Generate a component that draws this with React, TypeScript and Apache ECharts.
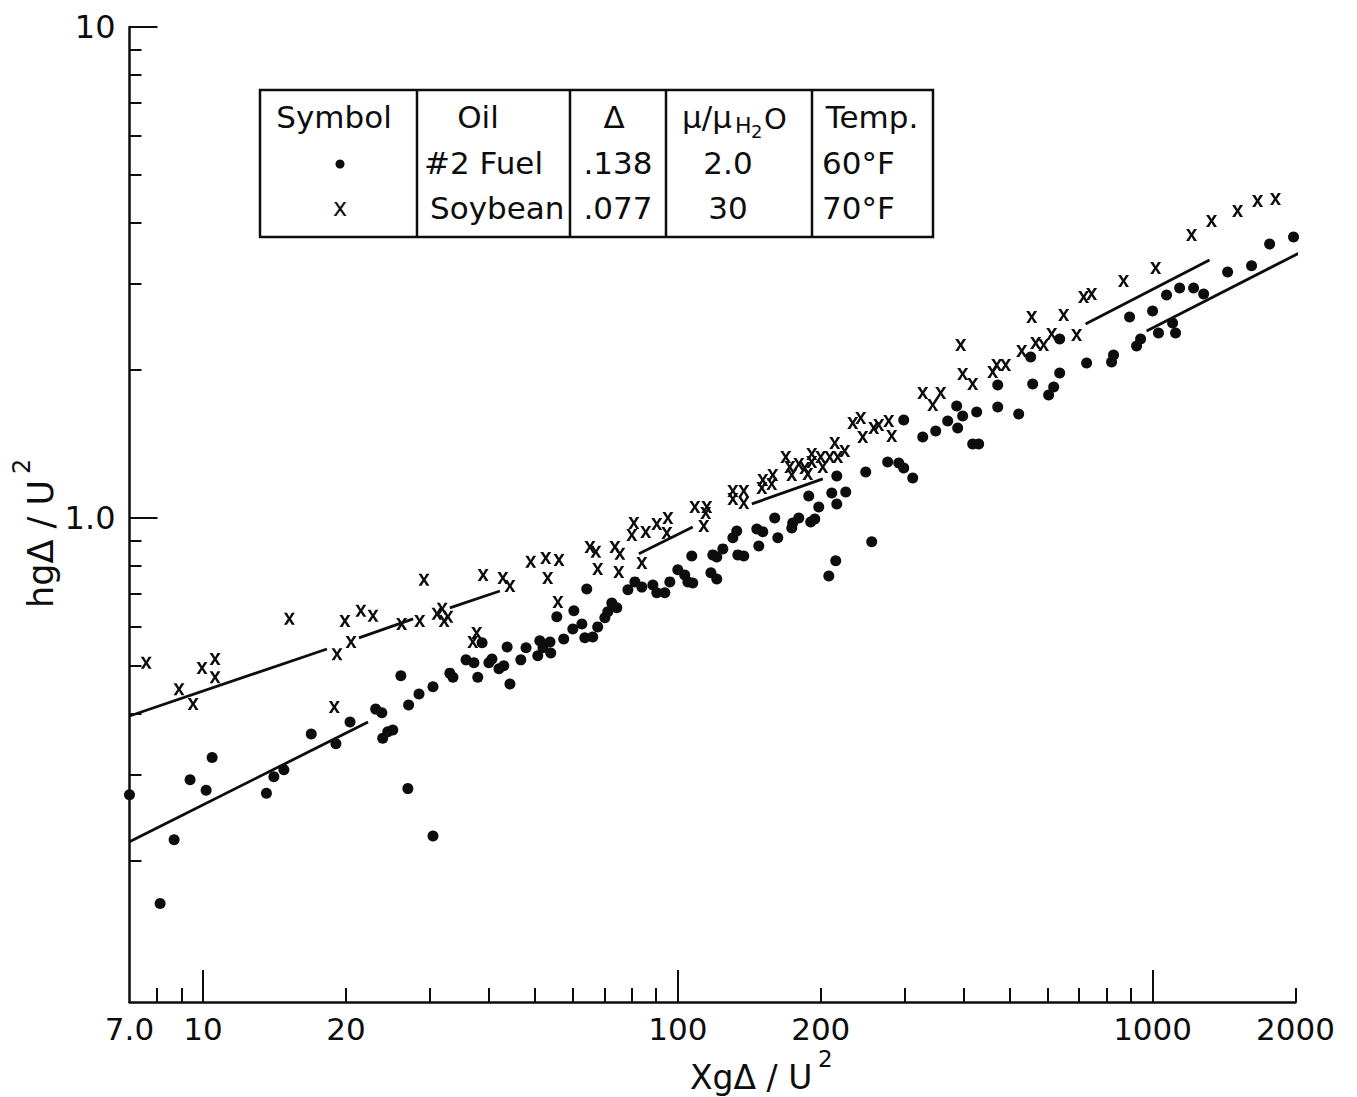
import React, { useEffect, useRef } from "react";
import * as echarts from "echarts";

// ---------- axis ticks / labels ----------
const xTickMajor = [10, 100, 1000];
const xTickMinor = [8, 9, 20, 30, 40, 50, 60, 70, 80, 90, 200, 300, 400, 500, 600, 700, 800, 900, 2000];
const xTickLabels = [7, 10, 20, 100, 200, 1000, 2000];
const yTickMajor = [1, 10];
const yTickMinor = [0.2, 0.3, 0.4, 0.5, 0.6, 0.7, 0.8, 0.9, 2, 3, 4, 5, 6, 7, 8, 9];
const yTickLabels = [1, 10];

// ---------- data: #2 Fuel (dots) ----------
const fuelData: [number, number][] = [
  [7.0, 0.273], [8.69, 0.221], [8.12, 0.164], [9.39, 0.293], [10.15, 0.279], [10.45, 0.325],
  [13.6, 0.275], [14.1, 0.297], [14.8, 0.307], [16.9, 0.363], [19.05, 0.347], [20.4, 0.384],
  [23.1, 0.408], [23.8, 0.401], [23.9, 0.356], [24.5, 0.367], [25.1, 0.37], [26.1, 0.477],
  [27.1, 0.416], [28.5, 0.438], [30.5, 0.453], [33.1, 0.483], [33.6, 0.474], [27.0, 0.281],
  [30.5, 0.225], [35.8, 0.514], [37.2, 0.507], [37.9, 0.474], [38.7, 0.557], [40.0, 0.507],
  [40.6, 0.516], [42.0, 0.493], [43.0, 0.5], [43.7, 0.546], [44.3, 0.459], [46.7, 0.514],
  [47.9, 0.544], [50.7, 0.524], [51.2, 0.562], [52.0, 0.544], [53.8, 0.559], [54.0, 0.531],
  [55.6, 0.629], [57.5, 0.567], [60.4, 0.647], [60.1, 0.594], [62.8, 0.608], [63.7, 0.57],
  [64.3, 0.717], [66.2, 0.572], [67.8, 0.6], [70.2, 0.626], [71.2, 0.644], [72.6, 0.671],
  [74.4, 0.656], [78.5, 0.714], [81.2, 0.741], [84.0, 0.723], [88.6, 0.73], [90.3, 0.704],
  [93.9, 0.704], [96.2, 0.741], [100, 0.784], [103.4, 0.765], [105, 0.741], [107.5, 0.737],
  [107, 0.837], [118.5, 0.841], [120.8, 0.833], [124.4, 0.865], [117.4, 0.773], [120.8, 0.751],
  [130.6, 0.911], [133.1, 0.941], [133.8, 0.841], [137.7, 0.837], [146.7, 0.95], [151, 0.937],
  [148.1, 0.877], [160, 1.0], [162.4, 0.911], [173.8, 0.954], [174.6, 0.977], [179.8, 1.0],
  [188.7, 1.109], [190.5, 0.981], [194.3, 0.995], [198.1, 1.053], [211, 1.124], [216.2, 1.218],
  [216.2, 1.068], [225.8, 1.13], [215.1, 0.818], [208, 0.762], [248.8, 1.241], [256.1, 0.894],
  [276.7, 1.3], [292, 1.294], [299.1, 1.264], [312.5, 1.206], [299.1, 1.583], [328, 1.462],
  [349.3, 1.504], [370.2, 1.576], [386.7, 1.691], [388.6, 1.525], [398.1, 1.614], [417.9, 1.415],
  [430.2, 1.415], [426.1, 1.644], [471.9, 1.866], [471.9, 1.683], [522.4, 1.628], [553.7, 2.128],
  [559.1, 1.875], [604, 1.78], [619, 1.848], [637.3, 1.974], [637.3, 2.315], [726.2, 2.069],
  [819.5, 2.078], [827.5, 2.148], [894.4, 2.567], [925.3, 2.24], [943.5, 2.315], [1000, 2.64],
  [1029, 2.381], [1070, 2.846], [1102, 2.495], [1118, 2.381], [1140, 2.94], [1220, 2.94],
  [1281, 2.859], [1439, 3.17], [1616, 3.262], [1764, 3.614], [1981, 3.735],
];

// ---------- data: Soybean (x) ----------
const soyData: [number, number][] = [
  [7.59, 0.507], [8.9, 0.448], [9.53, 0.418], [9.95, 0.495], [10.6, 0.516], [10.6, 0.474],
  [15.2, 0.623], [19.15, 0.528], [19.9, 0.617], [20.5, 0.559], [21.5, 0.647], [22.8, 0.632],
  [18.9, 0.412], [26.2, 0.608], [28.6, 0.617], [29.2, 0.748], [31.1, 0.638], [31.9, 0.653],
  [32.2, 0.617], [32.8, 0.629], [38.9, 0.765], [42.8, 0.755], [44.3, 0.727], [49.0, 0.814],
  [52.7, 0.829], [53.2, 0.755], [56.2, 0.821], [55.9, 0.674], [65.3, 0.873], [67.2, 0.853],
  [67.8, 0.787], [73.7, 0.873], [75.5, 0.845], [75.1, 0.776], [37.0, 0.559], [37.7, 0.583],
  [80.0, 0.923], [80.8, 0.977], [85.6, 0.936], [90.3, 0.972], [95.3, 1.0], [94.8, 0.932],
  [84.0, 0.81], [108.6, 1.053], [115.1, 1.053], [114.5, 1.024], [113.4, 0.963], [130.6, 1.135],
  [130.6, 1.093], [137.7, 1.135], [137.7, 1.073], [151, 1.195], [150.3, 1.151], [158.5, 1.223],
  [157.7, 1.173], [168.8, 1.331], [172.1, 1.27], [173.8, 1.223], [179.8, 1.288], [185.1, 1.264],
  [187.8, 1.229], [191.5, 1.35], [191.5, 1.3], [200, 1.331], [202, 1.27], [208.9, 1.331],
  [214.1, 1.421], [217.2, 1.331], [224.7, 1.369], [233.6, 1.561], [242.8, 1.599], [245.2, 1.462],
  [258.6, 1.525], [265, 1.547], [278.1, 1.576], [282.2, 1.469], [328, 1.797], [344.3, 1.699],
  [357.9, 1.797], [394.3, 2.251], [398.1, 1.965], [417.9, 1.875], [460.6, 1.983], [469.6, 2.049],
  [490.3, 2.049], [530.1, 2.188], [556.4, 2.567], [567.2, 2.272], [589.6, 2.251], [613, 2.37],
  [649.7, 2.591], [691.8, 2.359], [715.6, 2.819], [744, 2.859], [868.6, 3.039], [1015, 3.23],
  [1208, 3.771], [1331, 4.027], [1510, 4.22], [1664, 4.422], [1815, 4.464],
];

// ---------- fitted line segments ----------
const soyFitSegments: [number, number][][] = [
  [[7.0, 0.395], [18.24, 0.541]],
  [[21.3, 0.57], [27.7, 0.623]],
  [[33.1, 0.656], [42.2, 0.71]],
  [[82.8, 0.845], [107.5, 0.959]],
  [[143.2, 1.068], [202, 1.201]],
  [[722.5, 2.484], [1318, 3.354]],
];
const fuelFitSegments: [number, number][][] = [
  [[7.0, 0.219], [22.26, 0.384]],
  [[971.4, 2.404], [2440, 3.788]],
];

// ---------- legend table ----------
const tableHeaders = ["Symbol", "Oil", "Δ", "", "Temp."];
const tableRowFuel = ["#2 Fuel", ".138", "2.0", "60°F"];
const tableRowSoy = ["Soybean", ".077", "30", "70°F"];

const X_MIN = 7;
const X_MAX = 2000;
const Y_MIN = 0.1033;
const Y_MAX = 10;
const INK = "#0d0d0d";
const FONT = "DejaVu Sans";
const X_SYMBOL = "path://M0,0L2.8,0L5,4.1L7.2,0L10,0L6.4,6L10,12L7.2,12L5,7.9L2.8,12L0,12L3.6,6Z";

export default function App() {
  const ref = useRef<HTMLDivElement>(null);
  useEffect(() => {
    if (!ref.current) return;
    const chart = echarts.init(ref.current, undefined, { renderer: "svg" });

    const fmtX = (v: number) => {
      const r = Math.round(v);
      return r === 7 ? "7.0" : String(r);
    };
    const fmtY = (v: number) => (Math.round(v) === 1 ? "1.0" : String(Math.round(v)));

    const baseX: any = {
      type: "log",
      logBase: 10,
      min: X_MIN,
      max: X_MAX,
      position: "bottom",
      gridIndex: 0,
      splitLine: { show: false },
      axisLine: { show: false, onZero: false },
    };
    const baseY: any = {
      type: "log",
      logBase: 10,
      min: Y_MIN,
      max: Y_MAX,
      position: "left",
      gridIndex: 0,
      splitLine: { show: false },
      axisLine: { show: false, onZero: false },
    };

    const line = (x1: number, y1: number, x2: number, y2: number) => ({
      type: "line",
      shape: { x1, y1, x2, y2 },
      style: { stroke: INK, lineWidth: 2.5 },
    });
    const text = (t: string, x: number, y: number, size: number, align = "center", extra: any = {}) => ({
      type: "text",
      x,
      y,
      ...extra,
      style: {
        text: t,
        fontFamily: FONT,
        fontSize: size,
        fill: INK,
        align,
        verticalAlign: "middle",
      },
    });

    const tableY = [117, 163, 208];
    const graphic: any[] = [
      {
        type: "rect",
        shape: { x: 260, y: 90, width: 673, height: 147 },
        style: { fill: "none", stroke: INK, lineWidth: 2.5 },
      },
      line(417, 90, 417, 237),
      line(570, 90, 570, 237),
      line(666, 90, 666, 237),
      line(812, 90, 812, 237),
      text(tableHeaders[0], 334, tableY[0], 31),
      text(tableHeaders[1], 478, tableY[0], 31),
      text(tableHeaders[2], 614, tableY[0], 31),
      text("μ/μ", 682, tableY[0], 31, "left"),
      text("H", 735, tableY[0] + 8, 22, "left"),
      text("2", 751, tableY[0] + 14, 18, "left"),
      text("O", 764, tableY[0] + 2, 29, "left"),
      text(tableHeaders[4], 872, tableY[0], 31),
      { type: "circle", shape: { cx: 340, cy: tableY[1] + 1, r: 4.5 }, style: { fill: INK } },
      text("x", 340, tableY[2], 24),
      text(tableRowFuel[0], 424, tableY[1], 31, "left"),
      text(tableRowFuel[1], 618, tableY[1], 31),
      text(tableRowFuel[2], 728, tableY[1], 31),
      text(tableRowFuel[3], 822, tableY[1], 31, "left"),
      text(tableRowSoy[0], 430, tableY[2], 31, "left"),
      text(tableRowSoy[1], 618, tableY[2], 31),
      text(tableRowSoy[2], 728, tableY[2], 31),
      text(tableRowSoy[3], 822, tableY[2], 31, "left"),
      // axis titles
      text("XgΔ / U", 690, 1077, 33, "left"),
      text("2", 818, 1059, 23, "left"),
      text("hgΔ / U", 41, 608, 35, "left", { rotation: Math.PI / 2 }),
      text("2", 22, 474, 24, "left", { rotation: Math.PI / 2 }),
    ];

    const option: any = {
      animation: false,
      backgroundColor: "#fff",
      grid: {
        left: 129.5,
        top: 27,
        width: 1166,
        height: 975,
        containLabel: false,
        outerBoundsMode: "none",
      },
      xAxis: [
        {
          ...baseX,
          axisLine: { show: true, onZero: false, lineStyle: { color: INK, width: 2.5 } },
          axisTick: { show: true, inside: true, length: 32, customValues: xTickMajor, lineStyle: { color: INK, width: 2 } },
          axisLabel: {
            show: true,
            customValues: xTickLabels,
            formatter: fmtX,
            fontFamily: FONT,
            fontSize: 31,
            color: INK,
            margin: 11,
          },
        },
        {
          ...baseX,
          axisTick: { show: true, inside: true, length: 14, customValues: xTickMinor, lineStyle: { color: INK, width: 2 } },
          axisLabel: { show: false },
        },
      ],
      yAxis: [
        {
          ...baseY,
          axisLine: { show: true, onZero: false, lineStyle: { color: INK, width: 2.5 } },
          axisTick: { show: true, inside: true, length: 28, customValues: yTickMajor, lineStyle: { color: INK, width: 2 } },
          axisLabel: {
            show: true,
            customValues: yTickLabels,
            formatter: fmtY,
            fontFamily: FONT,
            fontSize: 32,
            color: INK,
            margin: 14,
          },
        },
        {
          ...baseY,
          axisTick: { show: true, inside: true, length: 12, customValues: yTickMinor, lineStyle: { color: INK, width: 2 } },
          axisLabel: { show: false },
        },
      ],
      series: [
        {
          name: "#2 Fuel",
          type: "scatter",
          xAxisIndex: 0,
          yAxisIndex: 0,
          data: fuelData,
          symbol: "circle",
          symbolSize: 11,
          clip: false,
          itemStyle: { color: INK, opacity: 1 },
        },
        {
          name: "Soybean",
          type: "scatter",
          xAxisIndex: 0,
          yAxisIndex: 0,
          data: soyData,
          symbol: X_SYMBOL,
          symbolSize: [11, 12],
          clip: false,
          itemStyle: { color: INK, opacity: 1 },
        },
        ...[...soyFitSegments, ...fuelFitSegments].map((seg) => ({
          type: "line",
          xAxisIndex: 0,
          yAxisIndex: 0,
          data: seg,
          symbol: "none",
          showSymbol: false,
          clip: false,
          lineStyle: { color: INK, width: 2.8 },
        })),
      ],
      graphic,
    };
    chart.setOption(option);
    return () => chart.dispose();
  }, []);

  return (
    <div
      ref={ref}
      style={{ position: "fixed", left: 0, top: 0, width: 1357, height: 1097, background: "#fff" }}
    />
  );
}
